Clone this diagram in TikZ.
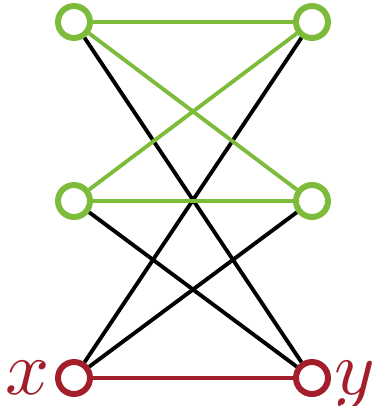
\documentclass[tikz,border=0pt]{standalone}
\usetikzlibrary{positioning}
\definecolor{leafgreen}{RGB}{125,187,58}
\definecolor{darkred}{RGB}{162,30,43}
\begin{document}
\begin{tikzpicture}[x=0.02cm, y=-0.02cm]
        \useasboundingbox (0,0) rectangle (379,406);
        \tikzset{vtx/.style={circle, line width=3.4pt, fill=white, minimum size=0.64cm, inner sep=0pt},
                 edge/.style={line width=2.2pt},
                 lbl/.style={text=darkred, scale=4.4, inner sep=0pt}}
        % vertices
        \node[vtx, draw=leafgreen] (tl) at (74, 22) {};
        \node[vtx, draw=leafgreen] (tr) at (312, 22) {};
        \node[vtx, draw=leafgreen] (ml) at (74, 201) {};
        \node[vtx, draw=leafgreen] (mr) at (312, 201) {};
        \node[vtx, draw=darkred] (bl) at (74, 378) {};
        \node[vtx, draw=darkred] (br) at (312, 378) {};
        \node[lbl, anchor=mid east] (lx) at ([xshift=-2pt]bl.west) {$x$};
        \node[lbl, anchor=mid west] (ly) at ([xshift=1pt]br.east) {$y$};
        % black edges
        \draw[edge] (tl) -- (br);
        \draw[edge] (tr) -- (bl);
        \draw[edge] (ml) -- (br);
        \draw[edge] (mr) -- (bl);
        % green edges
        \draw[edge, leafgreen] (tl) -- (tr);
        \draw[edge, leafgreen] (tl) -- (mr);
        \draw[edge, leafgreen] (ml) -- (tr);
        \draw[edge, leafgreen] (ml) -- (mr);
        % red edge
        \draw[edge, darkred] (bl) -- (br);
\end{tikzpicture}
\end{document}
